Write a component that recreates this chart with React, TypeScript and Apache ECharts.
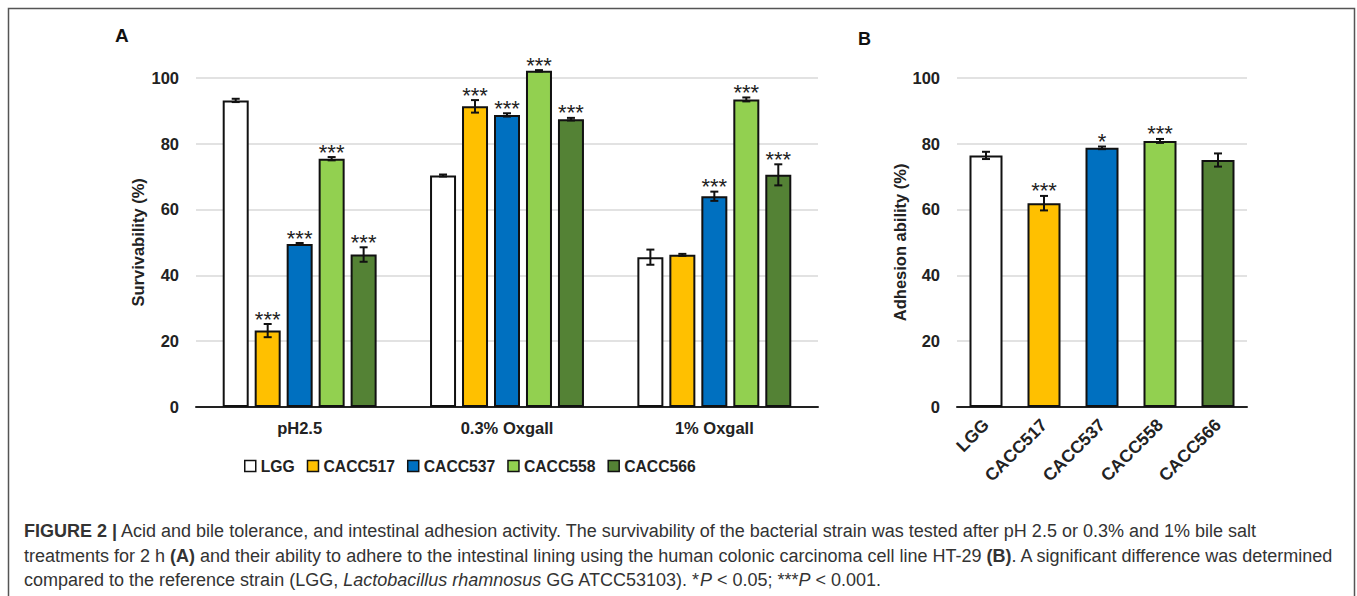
import React, { useEffect, useRef } from "react";
import * as echarts from "echarts";

// ---------- data ----------
const groupsA = ["pH2.5", "0.3% Oxgall", "1% Oxgall"];
const strains = ["LGG", "CACC517", "CACC537", "CACC558", "CACC566"];
const colors = ["#ffffff", "#ffc000", "#0070c0", "#92d050", "#548235"];

// Panel A: survivability (%) per strain across the three treatments
const survLGG = [93.1, 70.3, 45.5];
const survCACC517 = [23.2, 91.3, 46.2];
const survCACC537 = [49.5, 88.7, 64.0];
const survCACC558 = [75.4, 102.1, 93.4];
const survCACC566 = [46.3, 87.4, 70.5];
const errLGG = [0.5, 0.3, 2.3];
const errCACC517 = [2.0, 1.9, 0.3];
const errCACC537 = [0.3, 0.5, 1.4];
const errCACC558 = [0.5, 0.2, 0.6];
const errCACC566 = [2.2, 0.4, 3.2];
const starsLGG = ["", "", ""];
const starsCACC517 = ["***", "***", ""];
const starsCACC537 = ["***", "***", "***"];
const starsCACC558 = ["***", "***", "***"];
const starsCACC566 = ["***", "***", "***"];

const survA = [survLGG, survCACC517, survCACC537, survCACC558, survCACC566];
const errA = [errLGG, errCACC517, errCACC537, errCACC558, errCACC566];
const starsA = [starsLGG, starsCACC517, starsCACC537, starsCACC558, starsCACC566];

// Panel B: adhesion ability (%)
const adhesionB = [76.4, 61.9, 78.7, 80.8, 75.0];
const errB = [1.1, 2.2, 0.4, 0.6, 2.0];
const starsB = ["", "***", "*", "***", ""];

const yTicks = [0, 20, 40, 60, 80, 100];

// ---------- styling constants ----------
const FONT = "Liberation Sans, Arial, sans-serif";
const TXT = "#222222";
const BAR_W_A = 26;
const BAR_GAP_A = 0.23;
const CAP_FS = 18;

export default function App() {
  const ref = useRef<HTMLDivElement>(null);

  useEffect(() => {
    if (!ref.current) return;
    const chart = echarts.init(ref.current, undefined, { renderer: "svg" });

    const errRender = (
      offset: number,
      stars: string[],
      err: number[]
    ) => (params: any, api: any) => {
      const ci = api.value(0);
      const v = api.value(1);
      const e = err[params.dataIndex];
      const p = api.coord([ci, v]);
      const x = p[0] + offset;
      const yT = api.coord([ci, v + e])[1];
      const yB = api.coord([ci, v - e])[1];
      const cap = 4;
      const ls = { stroke: "#111", lineWidth: 2 };
      const children: any[] = [
        { type: "line", shape: { x1: x, y1: yT, x2: x, y2: yB }, style: ls },
        { type: "line", shape: { x1: x - cap, y1: yT, x2: x + cap, y2: yT }, style: ls },
        { type: "line", shape: { x1: x - cap, y1: yB, x2: x + cap, y2: yB }, style: ls },
      ];
      const s = stars[params.dataIndex];
      if (s) {
        children.push({
          type: "text",
          style: {
            text: s,
            x: x,
            y: yT - 5,
            align: "center",
            verticalAlign: "middle",
            fontSize: 22,
            fontFamily: FONT,
            fill: TXT,
          },
        });
      }
      return { type: "group", children };
    };

    const seriesA: any[] = strains.map((name, i) => ({
      name,
      type: "bar",
      xAxisIndex: 0,
      yAxisIndex: 0,
      barWidth: BAR_W_A,
      barGap: BAR_GAP_A * 100 + "%",
      clip: false,
      data: survA[i],
      itemStyle: { color: colors[i], borderColor: "#111", borderWidth: 2 },
      emphasis: { disabled: true },
    }));

    const errSeriesA: any[] = strains.map((_, i) => ({
      type: "custom",
      xAxisIndex: 0,
      yAxisIndex: 0,
      clip: false,
      silent: true,
      z: 5,
      data: survA[i].map((v, k) => [k, v]),
      renderItem: errRender((i - 2) * BAR_W_A * (1 + BAR_GAP_A), starsA[i], errA[i]),
    }));

    const seriesB: any = {
      type: "bar",
      xAxisIndex: 1,
      yAxisIndex: 1,
      barWidth: 33,
      data: adhesionB.map((v, i) => ({
        value: v,
        itemStyle: { color: colors[i] },
      })),
      itemStyle: { borderColor: "#111", borderWidth: 2 },
      emphasis: { disabled: true },
    };
    const errSeriesB: any = {
      type: "custom",
      xAxisIndex: 1,
      yAxisIndex: 1,
      clip: false,
      silent: true,
      z: 5,
      data: adhesionB.map((v, k) => [k, v]),
      renderItem: errRender(0, starsB, errB),
    };

    const yAxisCommon = {
      type: "value",
      min: yTicks[0],
      max: yTicks[yTicks.length - 1],
      interval: 20,
      axisLine: { show: false },
      axisTick: { show: false },
      splitLine: { lineStyle: { color: "#d9d9d9", width: 1.5 } },
      axisLabel: {
        color: TXT,
        fontWeight: "bold",
        fontSize: 16.5,
        fontFamily: FONT,
        margin: 17,
      },
      nameLocation: "middle",
      nameRotate: 90,
      nameTextStyle: {
        color: TXT,
        fontWeight: "bold",
        fontSize: 16.5,
        fontFamily: FONT,
      },
    };

    const captionStyle = {
      fontSize: CAP_FS,
      fontFamily: FONT,
      fill: "#333333",
      rich: {
        b: { fontWeight: "bold", fontSize: CAP_FS, fontFamily: FONT, color: "#333333" },
        i: { fontStyle: "italic", fontSize: CAP_FS, fontFamily: FONT, color: "#333333" },
      },
    };

    chart.setOption({
      animation: false,
      textStyle: { fontFamily: FONT },
      grid: [
        { left: 196, right: 539, top: 77.7, bottom: 189 },
        { left: 957, right: 110, top: 77.7, bottom: 189 },
      ],
      legend: {
        data: strains,
        left: 239,
        top: 453,
        icon: "rect",
        itemWidth: 11,
        itemHeight: 11,
        itemGap: 12,
        selectedMode: false,
        itemStyle: { borderColor: "#111", borderWidth: 1.5 },
        textStyle: { color: TXT, fontWeight: "bold", fontSize: 15.7, fontFamily: FONT },
      },
      xAxis: [
        {
          type: "category",
          gridIndex: 0,
          data: groupsA,
          axisLine: { lineStyle: { color: "#222", width: 2 } },
          axisTick: { show: false },
          axisLabel: { color: TXT, fontWeight: "bold", fontSize: 16.5, fontFamily: FONT, margin: 12 },
        },
        {
          type: "category",
          gridIndex: 1,
          data: strains,
          axisLine: { lineStyle: { color: "#222", width: 2 } },
          axisTick: { show: false },
          axisLabel: {
            color: TXT,
            fontWeight: "bold",
            fontSize: 17.5,
            fontFamily: FONT,
            rotate: 45,
            margin: 15,
            interval: 0,
          },
        },
      ],
      yAxis: [
        { ...yAxisCommon, gridIndex: 0, name: "Survivability (%)", nameGap: 50 },
        { ...yAxisCommon, gridIndex: 1, name: "Adhesion ability (%)", nameGap: 47 },
      ],
      series: [...seriesA, ...errSeriesA, seriesB, errSeriesB],
      graphic: [
        {
          type: "rect",
          shape: { x: 8.5, y: 8.5, width: 1346, height: 640 },
          style: { fill: "none", stroke: "#555", lineWidth: 1.5 },
          silent: true,
        },
        {
          type: "text",
          style: { text: "A", x: 115, y: 35, verticalAlign: "middle", fontSize: 19, fontWeight: "bold", fontFamily: FONT, fill: "#111" },
        },
        {
          type: "text",
          style: { text: "B", x: 858, y: 39, verticalAlign: "middle", fontSize: 18, fontWeight: "bold", fontFamily: FONT, fill: "#111" },
        },
        {
          type: "text",
          style: {
            ...captionStyle,
            x: 24,
            y: 531,
            verticalAlign: "middle",
            text:
              "{b|FIGURE 2 |} Acid and bile tolerance, and intestinal adhesion activity. The survivability of the bacterial strain was tested after pH 2.5 or 0.3% and 1% bile salt",
          },
        },
        {
          type: "text",
          style: {
            ...captionStyle,
            x: 24,
            y: 556,
            verticalAlign: "middle",
            text:
              "treatments for 2 h {b|(A)} and their ability to adhere to the intestinal lining using the human colonic carcinoma cell line HT-29 {b|(B)}. A significant difference was determined",
          },
        },
        {
          type: "text",
          style: {
            ...captionStyle,
            x: 24,
            y: 580,
            verticalAlign: "middle",
            text:
              "compared to the reference strain (LGG, {i|Lactobacillus rhamnosus} GG ATCC53103). *{i|P} < 0.05; ***{i|P} < 0.001.",
          },
        },
      ],
    });

    return () => chart.dispose();
  }, []);

  return (
    <div
      ref={ref}
      style={{ position: "fixed", left: 0, top: 0, width: 1357, height: 596, background: "#fff" }}
    />
  );
}
